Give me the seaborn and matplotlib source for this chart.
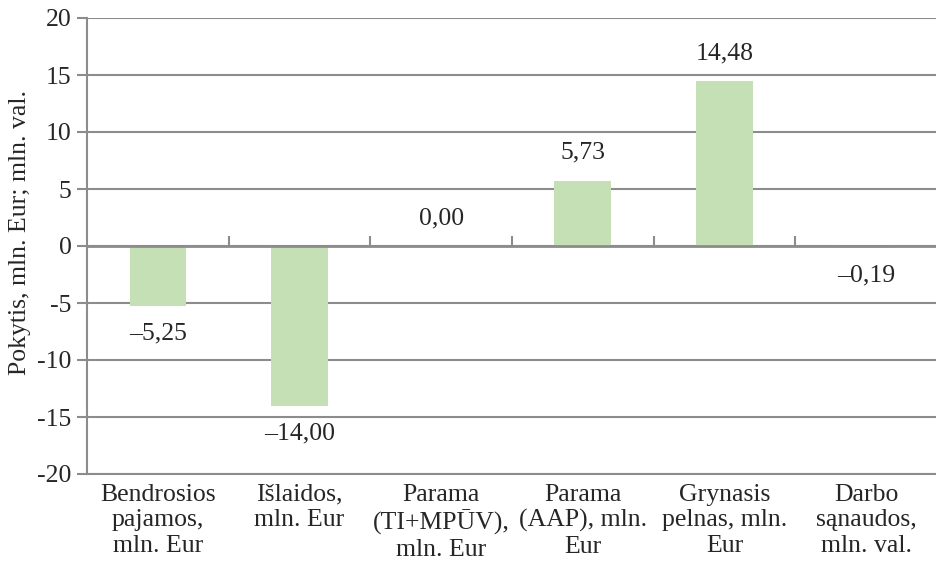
import matplotlib
matplotlib.use("Agg")
import matplotlib.pyplot as plt
import seaborn as sns
import pandas as pd
import numpy as np

categories = [
    "Bendrosios\npajamos,\nmln. Eur",
    "Išlaidos,\nmln. Eur\n",
    "Parama\n(TI+MPŪV),\nmln. Eur",
    "Parama\n(AAP), mln.\nEur",
    "Grynasis\npelnas, mln.\nEur",
    "Darbo\nsąnaudos,\nmln. val.",
]
values = [-5.25, -14.00, 0.00, 5.73, 14.48, -0.19]
y_ticks = [-20, -15, -10, -5, 0, 5, 10, 15, 20]

FS = 18.5

sns.set_theme(style="white")
plt.rcParams["font.family"] = ["Liberation Serif", "DejaVu Serif"]
plt.rcParams["font.size"] = FS

df = pd.DataFrame({"cat": categories, "val": values})

fig = plt.figure(figsize=(9.37, 5.8), dpi=100)
W, H = 937, 580
ax = fig.add_axes([87 / W, (H - 474) / H, (937 - 87) / W, (474 - 18) / H])

grid_c = "#8c8c8c"
bar_c = "#c5e0b4"

sns.barplot(data=df, x="cat", y="val", color=bar_c, width=0.4, ax=ax,
            saturation=1, edgecolor="none", zorder=3)

ax.set_ylim(-20, 20)
ax.set_xlim(-0.5, len(categories) - 0.5)
ax.set_yticks(y_ticks)
ax.set_yticklabels([str(t) for t in y_ticks], fontsize=FS)
ax.yaxis.grid(True, color=grid_c, linewidth=1.5, zorder=0)
ax.set_axisbelow(True)

for s in ["top", "right"]:
    ax.spines[s].set_visible(False)
for s in ["left", "bottom"]:
    ax.spines[s].set_color(grid_c)
    ax.spines[s].set_linewidth(1.5)

ax.tick_params(axis="y", left=True, length=7, width=1.5, color=grid_c, pad=4)
ax.tick_params(axis="x", bottom=False, length=0, pad=7, labelsize=FS)
ax.set_xlabel("")
ax.set_ylabel("Pokytis, mln. Eur; mln. val.", fontsize=FS)
ax.yaxis.set_label_coords(-0.066, 0.53)

# zero line with category separator ticks
ax.axhline(0, color=grid_c, linewidth=2, zorder=4)
sec = ax.secondary_xaxis(0.5)
sec.set_xticks(np.arange(0.5, len(categories) - 0.5, 1.0))
sec.set_xticklabels([])
sec.tick_params(length=7, width=1.5, color=grid_c, direction="out")
sec.spines["bottom"].set_visible(False)

# data labels
for i, v in enumerate(values):
    txt = f"{abs(v):.2f}".replace(".", ",")
    if v < 0:
        txt = "\u2013" + txt
        off = -20
    else:
        off = 20
    ax.annotate(txt, (i, v), xytext=(0, off), textcoords="offset points",
                ha="center", va="center", fontsize=FS, zorder=5)

fig.savefig("out.png", dpi=100)
